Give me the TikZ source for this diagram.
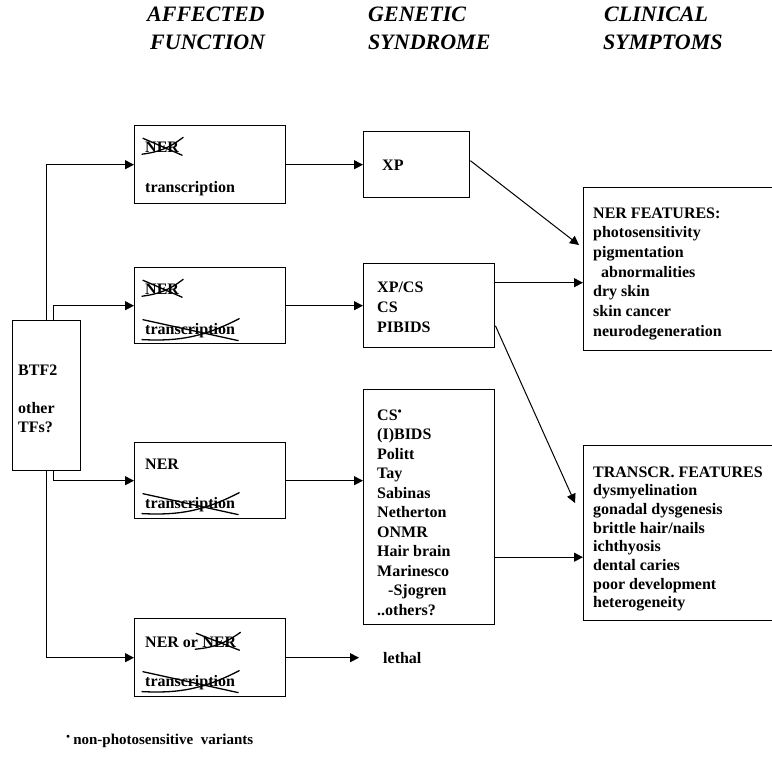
\documentclass[tikz,border=0pt]{standalone}
\usepackage{fontspec}
\setmainfont{Liberation Serif}
\usetikzlibrary{arrows.meta}

\tikzset{
	box/.style = {draw, line width = 1.4pt, inner sep = 0pt, anchor = north west},
	txt/.style = {font = \bfseries\fontsize{16}{19.5}\selectfont, inner sep = 0pt, anchor = base west},
	head/.style = {font = \bfseries\itshape\fontsize{22}{28}\selectfont, inner sep = 0pt, anchor = base west},
	strike/.style = {line width = 1.3pt, line cap = round},
	link/.style = {line width = 1pt, -{Triangle[length = 9pt, width = 9pt]}}
}

\begin{document}
\begin{tikzpicture}[x = 1pt, y = -1pt]

	\useasboundingbox (0, 0) rectangle (772, 768);

	% Column headers

	\node [head] (hfun1) at (147, 22) {AFFECTED};
	\node [head] (hfun2) at (150, 50) {FUNCTION};
	\node [head] (hgen1) at (368, 22) {GENETIC};
	\node [head] (hgen2) at (368, 50) {SYNDROME};
	\node [head] (hcli1) at (604, 22) {CLINICAL};
	\node [head] (hcli2) at (603, 50) {SYMPTOMS};

	% Boxes

	\node [box, minimum width = 68, minimum height = 150] (btf) at (12, 320) {};
	\node [box, minimum width = 151, minimum height = 78] (f1) at (134, 125) {};
	\node [box, minimum width = 151, minimum height = 76] (f2) at (134, 267) {};
	\node [box, minimum width = 151, minimum height = 76] (f3) at (134, 442) {};
	\node [box, minimum width = 151, minimum height = 78] (f4) at (134, 618) {};
	\node [box, minimum width = 106, minimum height = 66] (s1) at (363, 131) {};
	\node [box, minimum width = 131, minimum height = 84] (s2) at (363, 263) {};
	\node [box, minimum width = 131, minimum height = 235] (s3) at (363, 389) {};
	\node [box, minimum width = 200, minimum height = 163] (n1) at (583, 187) {};
	\node [box, minimum width = 200, minimum height = 175] (n2) at (583, 445) {};

	% Box texts

	\node [txt] (b1) at (18, 375) {BTF2};
	\node [txt] (b2) at (18, 413) {other};
	\node [txt] (b3) at (18, 432) {TFs?};

	\node [txt] (c1) at (145, 152) {NER};
	\node [txt] (t1) at (145, 192) {transcription};
	\node [txt] (c2) at (145, 294) {NER};
	\node [txt] (c3) at (145, 334) {transcription};
	\node [txt] (t3) at (145, 469) {NER};
	\node [txt] (c4) at (145, 508) {transcription};
	\node [txt] (t4) at (145, 647) {NER or};
	\node [txt, anchor = base west] (c5) at (t4.base east) {\ NER};
	\node [txt] (c6) at (145, 686) {transcription};

	\node [txt] (x1) at (382, 170) {XP};
	\foreach \t [count = \i from 0] in {XP/CS, CS, PIBIDS}
		\node [txt] (x2-\i) at (377, {292 + 20 * \i}) {\t};
	\foreach \t [count = \i from 0] in {CS$^{\scriptscriptstyle\bullet}$, (I)BIDS, Politt, Tay, Sabinas, Netherton, ONMR, Hair brain, Marinesco, \hspace{11pt}-Sjogren, ..others?}
		\node [txt] (x3-\i) at (377, {420 + 19.5 * \i}) {\t};
	\node [txt] (lethal) at (383, 663) {lethal};

	\foreach \t [count = \i from 0] in {NER FEATURES:, photosensitivity, pigmentation, \hspace{8pt}abnormalities, dry skin, skin cancer, neurodegeneration}
		\node [txt] (y1-\i) at (593, {218 + 19.7 * \i}) {\t};
	\foreach \t [count = \i from 0] in {TRANSCR. FEATURES, dysmyelination, gonadal dysgenesis, brittle hair/nails, ichthyosis, dental caries, poor development, heterogeneity}
		\node [txt] (y2-\i) at (593, {477 + 18.7 * \i}) {\t};

	% Crossed out functions

	\foreach \w in {c1, c2, c3, c4, c5, c6} {
		\draw [strike] ([xshift = -2pt, yshift = 3pt] \w.north west) -- ([xshift = 3pt, yshift = -3pt] \w.south east);
		\draw [strike] ([xshift = -3pt, yshift = -2pt] \w.south west) to [bend right = 15] ([xshift = 4pt, yshift = 4pt] \w.north east);
	}

	% Footnote

	\node [txt, font = \bfseries\fontsize{15}{18}\selectfont] (note) at (66, 744) {$^{\scriptscriptstyle\bullet}$\,non-photosensitive\ \ variants};

	% Connectors

	\draw [link] (btf.north) |- (f1.west);
	\draw [link] ([xshift = 7pt] btf.north) |- (f2.west);
	\draw [link] ([xshift = 7pt] btf.south) |- (f3.west);
	\draw [link] (btf.south) |- (f4.west);

	\draw [link] (f1.east) -- (s1.west);
	\draw [link] (f2.east) -- (s2.west);
	\draw [link] (f3.east) -- (f3.east -| s3.west);
	\draw [link] (f4.east) -- ([xshift = -24pt] lethal.west |- f4.east);

	\draw [link] ([yshift = 4pt] s1.east) -- ([xshift = -4pt, yshift = -58pt] n1.north west);
	\draw [link] ([yshift = 23pt] s2.east) -- ([yshift = 23pt] s2.east -| n1.west);
	\draw [link] ([yshift = -20pt] s2.east) -- ([xshift = -8pt, yshift = -58pt] n2.north west);
	\draw [link] ([yshift = -50pt] s3.east) -- ([yshift = -50pt] s3.east -| n2.west);

\end{tikzpicture}
\end{document}
